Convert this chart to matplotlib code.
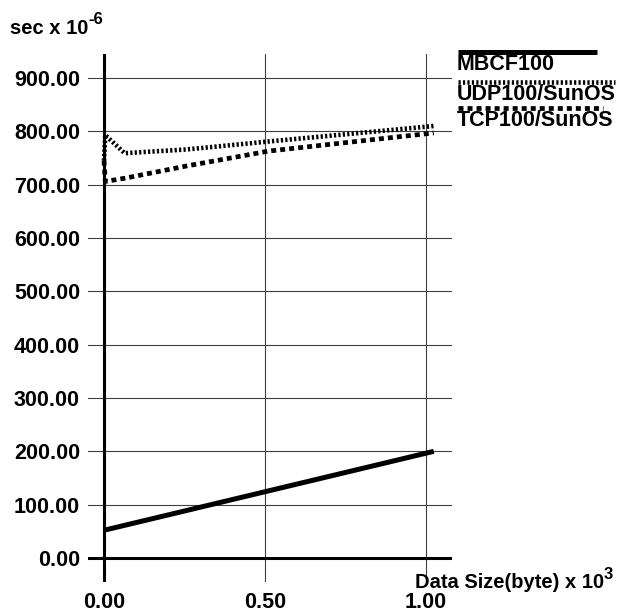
import matplotlib
matplotlib.use('Agg')
import matplotlib.pyplot as plt
from matplotlib.lines import Line2D

plt.rcParams.update({
    'font.family': ['Liberation Sans', 'DejaVu Sans'],
    'font.weight': 'bold',
    'lines.scale_dashes': False,
})

# data (x in units of 10^3 bytes, y in units of 10^-6 sec)
mbcf_x = [0.0, 0.256, 0.512, 1.024]
mbcf_y = [52, 89, 126, 200]
udp_x = [0.0, 0.004, 0.064, 0.256, 0.512, 1.024]
udp_y = [745, 793, 759, 766, 781, 810]
tcp_x = [0.0, 0.004, 0.064, 0.256, 0.512, 1.024]
tcp_y = [745, 706, 712, 735, 763, 797]

xticks = [0.0, 0.5, 1.0]
xtick_labels = ['0.00', '0.50', '1.00']
yticks = [0, 100, 200, 300, 400, 500, 600, 700, 800, 900]
ytick_labels = ['%.2f' % v for v in yticks]

W, H = 626, 610
fig = plt.figure(figsize=(W / 100, H / 100), dpi=100)
ax = fig.add_axes([88 / W, (H - 582) / H, 364 / W, 528 / H])
ax.set_xlim(-0.0497, 1.0807)
ax.set_ylim(-45, 945)
for s in ax.spines.values():
    s.set_visible(False)

# grid
grid_kw = dict(color='#404040', linewidth=0.8, zorder=1)
for v in yticks[1:]:
    ax.axhline(v, **grid_kw)
for v in xticks[1:]:
    ax.axvline(v, **grid_kw)
ax.axhline(0, color='black', linewidth=2.2, zorder=2)
ax.axvline(0, color='black', linewidth=2.2, zorder=2)

# series
solid_kw = dict(color='black', linewidth=3.6, solid_capstyle='butt')
udp_kw = dict(color='black', linewidth=3.3, linestyle=(0, (1.6, 1.6)), dash_capstyle='butt')
tcp_kw = dict(color='black', linewidth=3.4, linestyle=(0, (3.6, 2.9)), dash_capstyle='butt')
ax.plot(mbcf_x, mbcf_y, zorder=3, **solid_kw)
ax.plot(udp_x, udp_y, zorder=3, **udp_kw)
ax.plot(tcp_x, tcp_y, zorder=3, **tcp_kw)

ax.set_xticks(xticks)
ax.set_xticklabels(xtick_labels)
ax.set_yticks(yticks)
ax.set_yticklabels(ytick_labels)
ax.tick_params(length=0, labelsize=15.5)
ax.tick_params(axis='y', pad=5.8)
ax.tick_params(axis='x', pad=7.5)

# axis titles
def px(x, y):
    return x / W, 1 - y / H

ylab = fig.text(*px(10, 28), 'sec x 10', fontsize=14.5, va='center', ha='left')
ax.annotate('-6', xy=(1, 0.55), xycoords=ylab, fontsize=12, va='bottom', ha='left')
xlab = fig.text(*px(415, 583), 'Data Size(byte) x 10', fontsize=14.5, va='center', ha='left')
ax.annotate('3', xy=(1, 0.55), xycoords=xlab, fontsize=12, va='bottom', ha='left')

# legend (line above label)
legend_items = [
    ('MBCF100', solid_kw, 52, 65, 597),
    ('UDP100/SunOS', udp_kw, 82, 95, 615),
    ('TCP100/SunOS', tcp_kw, 108, 120, 603),
]
for label, kw, ly, ty, xend in legend_items:
    x0, y0 = px(458, ly)
    x1, _ = px(xend, ly)
    fig.add_artist(Line2D([x0, x1], [y0, y0], transform=fig.transFigure, **kw))
    fig.text(*px(457, ty), label, fontsize=15.5, va='center', ha='left')

fig.savefig('out.png', dpi=100)
